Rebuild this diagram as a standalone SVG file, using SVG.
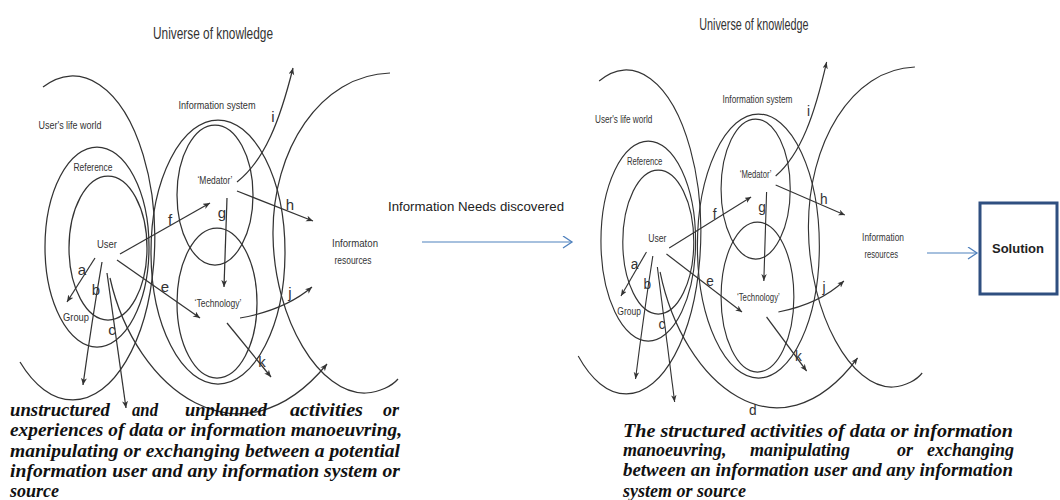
<svg xmlns="http://www.w3.org/2000/svg" width="1060" height="500" viewBox="0 0 1060 500">
<style>
.ln{fill:none;stroke:#333333;stroke-width:1.25}
.ar{fill:none;stroke:#333333;stroke-width:1.25;marker-end:url(#ah)}
.lb{font-family:"Liberation Sans",Arial,sans-serif;font-size:11px;fill:#333;text-anchor:middle}
.tt{font-family:"Liberation Sans",Arial,sans-serif;font-size:16px;fill:#333;text-anchor:middle}
.lt{font-family:"Liberation Sans",Arial,sans-serif;font-size:15px;fill:#333;text-anchor:middle}
.desc{font-family:"Liberation Serif","Times New Roman",serif;font-weight:bold;font-style:italic;font-size:18px;fill:#111}
.mid{font-family:"Liberation Sans",Arial,sans-serif;font-size:12px;fill:#222;text-anchor:middle}
.blue{fill:none;stroke:#4f81bd;stroke-width:1.2;marker-end:url(#bh)}
</style>
<defs>
<marker id="ah" markerUnits="userSpaceOnUse" markerWidth="9" markerHeight="8" refX="7" refY="3" orient="auto"><path d="M0,0 L7,3 L0,6 L2,3 z" fill="#333333"/></marker>
<marker id="bh" markerUnits="userSpaceOnUse" markerWidth="12" markerHeight="14" refX="10" refY="6" orient="auto"><path d="M1,0 L10,6 L1,12" fill="none" stroke="#4f81bd" stroke-width="1.3"/></marker>
</defs>
<rect width="1060" height="500" fill="#ffffff"/>

<!-- LEFT DIAGRAM -->
<g id="diagram-left">
  <text class="tt" x="213" y="39" textLength="120" lengthAdjust="spacingAndGlyphs">Universe of knowledge</text>
  <g id="life-world">
    <path class="ln" d="M43 87 A82 162 0 1 1 20 362"/>
    <text class="lb" x="70" y="129" textLength="63" lengthAdjust="spacingAndGlyphs">User's life world</text>
  </g>
  <g id="reference">
    <ellipse class="ln" cx="97" cy="247" rx="52" ry="100"/>
    <text class="lb" x="93" y="171" textLength="39" lengthAdjust="spacingAndGlyphs">Reference</text>
  </g>
  <g id="user">
    <ellipse class="ln" cx="108" cy="248" rx="39" ry="72"/>
    <text class="lb" x="107" y="248" textLength="20" lengthAdjust="spacingAndGlyphs">User</text>
  </g>
  <g id="group">
    <text class="lb" x="76" y="321" textLength="26" lengthAdjust="spacingAndGlyphs">Group</text>
  </g>
  <g id="information-system">
    <ellipse class="ln" cx="218" cy="252" rx="67" ry="132"/>
    <text class="lb" x="217" y="109" textLength="77" lengthAdjust="spacingAndGlyphs">Information system</text>
  </g>
  <g id="mediator">
    <ellipse class="ln" cx="215" cy="195" rx="38" ry="70"/>
    <text class="lb" x="215" y="184" textLength="35" lengthAdjust="spacingAndGlyphs">‘Medator’</text>
  </g>
  <g id="technology">
    <ellipse class="ln" cx="217" cy="303" rx="40" ry="75"/>
    <text class="lb" x="218" y="307" textLength="47" lengthAdjust="spacingAndGlyphs">‘Technology’</text>
  </g>
  <g id="information-resources">
    <path class="ln" d="M390 73 C320 75 272 150 273 235 C274 320 320 395 366 393 C380 392 392 386 398 379"/>
    <text class="lb" x="355" y="247" textLength="46" lengthAdjust="spacingAndGlyphs">Informaton</text>
    <text class="lb" x="353" y="264" textLength="37" lengthAdjust="spacingAndGlyphs">resources</text>
  </g>
  <g id="connectors-left">
    <path class="ar" d="M95 258 L67 302"/>
    <path class="ar" d="M102 262 Q92 320 83 385"/>
    <path class="ar" d="M107 273 L126 408"/>
    <path class="ar" d="M110 278 C135 390 240 470 327 364"/>
    <path class="ar" d="M117 260 L200 318"/>
    <path class="ar" d="M120 254 L210 203"/>
    <path class="ar" d="M227 198 L224 287"/>
    <path class="ar" d="M237 191 L313 221"/>
    <path class="ar" d="M237 182 C265 160 280 120 293 68"/>
    <path class="ar" d="M240 318 Q285 310 312 287"/>
    <path class="ar" d="M227 323 L271 377"/>
    <text class="lt" x="82" y="275">a</text>
    <text class="lt" x="96" y="295">b</text>
    <text class="lt" x="112" y="335">c</text>
    <text class="lt" x="165" y="292">e</text>
    <text class="lt" x="170" y="225">f</text>
    <text class="lt" x="222" y="218">g</text>
    <text class="lt" x="290" y="210">h</text>
    <text class="lt" x="273" y="122">i</text>
    <text class="lt" x="290" y="298">j</text>
    <text class="lt" x="262" y="367">k</text>
  </g>
</g>

<g id="desc-left">
  <text class="desc" x="10" y="416" textLength="100" lengthAdjust="spacingAndGlyphs">unstructured</text>
  <text class="desc" x="132" y="416" textLength="26" lengthAdjust="spacingAndGlyphs">and</text>
  <text class="desc" x="185" y="416" textLength="82" lengthAdjust="spacingAndGlyphs">unplanned</text>
  <text class="desc" x="290" y="416" textLength="73" lengthAdjust="spacingAndGlyphs">activities</text>
  <text class="desc" x="383" y="416">or</text>
  <text class="desc" x="10" y="436" textLength="392" lengthAdjust="spacingAndGlyphs">experiences of data or information manoeuvring,</text>
  <text class="desc" x="10" y="457" textLength="390" lengthAdjust="spacingAndGlyphs">manipulating or exchanging between a potential</text>
  <text class="desc" x="10" y="477" textLength="390" lengthAdjust="spacingAndGlyphs">information user and any information system or</text>
  <text class="desc" x="10" y="497">source</text>
</g>

<!-- MIDDLE -->
<g id="needs-discovered">
  <text class="mid" x="476" y="211" textLength="176" lengthAdjust="spacingAndGlyphs">Information Needs discovered</text>
</g>
<g id="connectors-main">
  <path class="blue" d="M422 242 L572 242"/>
  <path class="blue" d="M927 253 L977 253"/>
</g>
<g id="solution">
  <rect x="980" y="203" width="77" height="91" fill="#ffffff" stroke="#2f4f80" stroke-width="3"/>
  <text x="1018" y="253" text-anchor="middle" font-family="Liberation Sans, Arial, sans-serif" font-size="13" font-weight="bold" fill="#222">Solution</text>
</g>

<!-- RIGHT DIAGRAM -->
<g id="diagram-right" transform="translate(560,-6) scale(0.91,1)">
  <text class="tt" x="213" y="36" textLength="120" lengthAdjust="spacingAndGlyphs">Universe of knowledge</text>
  <g id="life-world-r">
    <path class="ln" d="M43 87 A82 162 0 1 1 20 362"/>
    <text class="lb" x="70" y="129" textLength="63" lengthAdjust="spacingAndGlyphs">User's life world</text>
  </g>
  <g id="reference-r">
    <ellipse class="ln" cx="97" cy="247" rx="52" ry="100"/>
    <text class="lb" x="93" y="171" textLength="39" lengthAdjust="spacingAndGlyphs">Reference</text>
  </g>
  <g id="user-r">
    <ellipse class="ln" cx="108" cy="248" rx="39" ry="72"/>
    <text class="lb" x="107" y="248" textLength="20" lengthAdjust="spacingAndGlyphs">User</text>
  </g>
  <g id="group-r">
    <text class="lb" x="76" y="321" textLength="26" lengthAdjust="spacingAndGlyphs">Group</text>
  </g>
  <g id="information-system-r">
    <ellipse class="ln" cx="218" cy="252" rx="67" ry="132"/>
    <text class="lb" x="217" y="109" textLength="77" lengthAdjust="spacingAndGlyphs">Information system</text>
  </g>
  <g id="mediator-r">
    <ellipse class="ln" cx="215" cy="195" rx="38" ry="70"/>
    <text class="lb" x="215" y="184" textLength="35" lengthAdjust="spacingAndGlyphs">‘Medator’</text>
  </g>
  <g id="technology-r">
    <ellipse class="ln" cx="217" cy="303" rx="40" ry="75"/>
    <text class="lb" x="218" y="307" textLength="47" lengthAdjust="spacingAndGlyphs">‘Technology’</text>
  </g>
  <g id="information-resources-r">
    <path class="ln" d="M390 73 C320 75 272 150 273 235 C274 320 320 395 366 393 C380 392 392 386 398 379"/>
    <text class="lb" x="355" y="247" textLength="46" lengthAdjust="spacingAndGlyphs">Information</text>
    <text class="lb" x="353" y="264" textLength="37" lengthAdjust="spacingAndGlyphs">resources</text>
  </g>
  <g id="connectors-right">
    <path class="ar" d="M95 258 L67 302"/>
    <path class="ar" d="M102 262 Q92 320 83 385"/>
    <path class="ar" d="M107 273 L126 408"/>
    <path class="ar" d="M110 278 C135 390 240 470 327 364"/>
    <path class="ar" d="M117 260 L200 318"/>
    <path class="ar" d="M120 254 L210 203"/>
    <path class="ar" d="M227 198 L224 287"/>
    <path class="ar" d="M237 191 L313 221"/>
    <path class="ar" d="M237 182 C265 160 280 120 293 68"/>
    <path class="ar" d="M240 318 Q285 310 312 287"/>
    <path class="ar" d="M227 323 L271 377"/>
    <text class="lt" x="82" y="275">a</text>
    <text class="lt" x="96" y="295">b</text>
    <text class="lt" x="112" y="335">c</text>
    <text class="lt" x="212" y="421">d</text>
    <text class="lt" x="165" y="292">e</text>
    <text class="lt" x="170" y="225">f</text>
    <text class="lt" x="222" y="218">g</text>
    <text class="lt" x="290" y="210">h</text>
    <text class="lt" x="273" y="122">i</text>
    <text class="lt" x="290" y="298">j</text>
    <text class="lt" x="262" y="367">k</text>
  </g>
</g>

<g id="desc-right">
  <text class="desc" x="623" y="437" textLength="390" lengthAdjust="spacingAndGlyphs">The structured activities of data or information</text>
  <text class="desc" x="623" y="456">manoeuvring,</text>
  <text class="desc" x="750" y="456">manipulating</text>
  <text class="desc" x="897" y="456">or</text>
  <text class="desc" x="1014" y="456" text-anchor="end">exchanging</text>
  <text class="desc" x="623" y="476" textLength="390" lengthAdjust="spacingAndGlyphs">between an information user and any information</text>
  <text class="desc" x="623" y="497">system or source</text>
</g>
</svg>
